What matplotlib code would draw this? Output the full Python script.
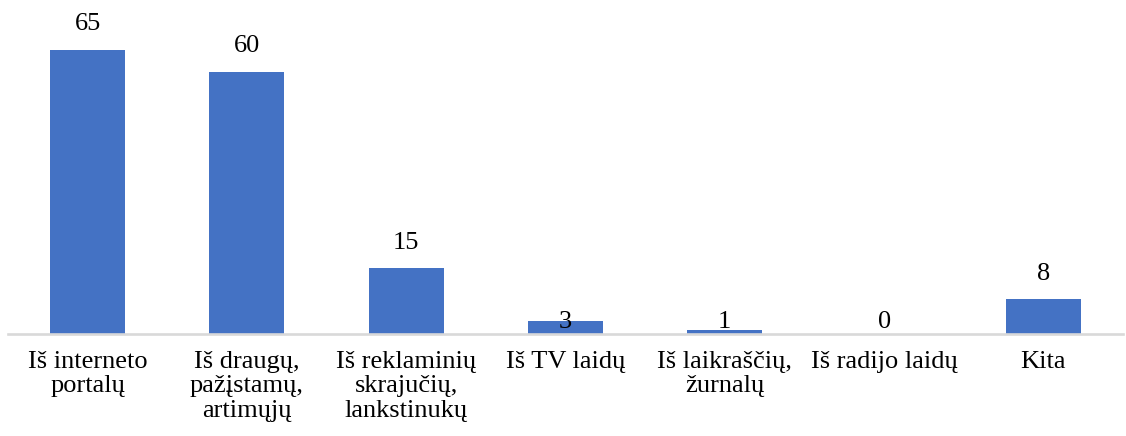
import matplotlib
matplotlib.use("Agg")
import matplotlib.pyplot as plt

# Data
categories = [
    "Iš interneto\nportalų",
    "Iš draugų,\npažįstamų,\nartimųjų",
    "Iš reklaminių\nskrajučių,\nlankstinukų",
    "Iš TV laidų",
    "Iš laikraščių,\nžurnalų",
    "Iš radijo laidų",
    "Kita",
]
values = [65, 60, 15, 3, 1, 0, 8]

plt.rcParams['font.family'] = ['Liberation Serif', 'DejaVu Serif']

fig = plt.figure(figsize=(11.26, 4.36), dpi=100)
ax = fig.add_axes([8 / 1126, (436 - 334) / 436, 1115 / 1126, 334 / 436])

x = range(len(values))
ax.bar(x, values, width=0.47, color="#4472C4")

# value labels; tiny bars get their label sitting just above the baseline
for xi, v in zip(x, values):
    y = v + 5.8 if v >= 5 else 2.75
    ax.text(xi, y, str(v), ha="center", va="center", fontsize=19, color="black")

ax.set_xlim(-0.5, len(values) - 0.5)
ax.set_ylim(0, 76.4)
ax.set_xticks(list(x))
ax.set_xticklabels(categories, fontsize=19, linespacing=1.15)
ax.tick_params(axis="x", length=0, pad=12)
ax.set_yticks([])

for s in ["top", "right", "left"]:
    ax.spines[s].set_visible(False)
ax.spines["bottom"].set_color("#d9d9d9")
ax.spines["bottom"].set_linewidth(1.9)

fig.savefig("out.png", dpi=100)
